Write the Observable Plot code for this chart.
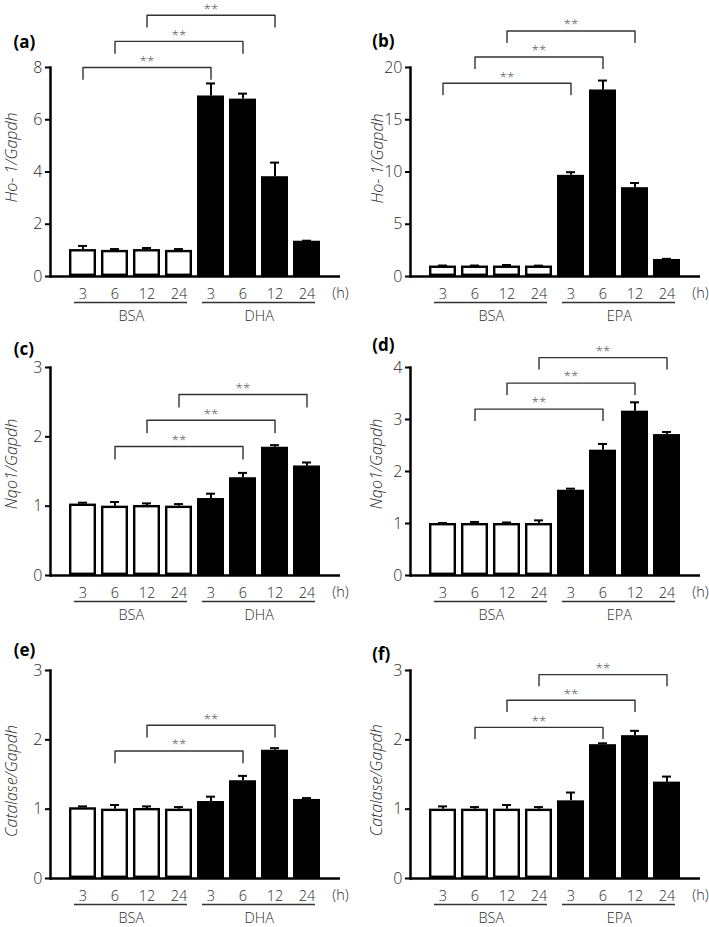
<!DOCTYPE html>
<html><head><meta charset="utf-8">
<script src="https://cdn.jsdelivr.net/npm/d3@7"></script>
<script src="https://cdn.jsdelivr.net/npm/@observablehq/plot@0.6"></script>
<style>
body{margin:0;background:#fff;}
#wrap{position:relative;width:709px;height:927px;overflow:hidden;background:#fff;}
#wrap svg{position:absolute;}
</style></head><body><div id="wrap"></div>
<script>
// ---------- data ----------
const hours = ["3", "6", "12", "24"];
const control = "BSA";
const groupsDHA = ["BSA", "DHA"];
const groupsEPA = ["BSA", "EPA"];

// (a) Ho-1, DHA
const hoDhaMean = [1.03, 1.00, 1.03, 1.00, 6.91, 6.79, 3.82, 1.35];
const hoDhaErr  = [0.14, 0.05, 0.06, 0.05, 0.48, 0.21, 0.54, 0.02];
// (b) Ho-1, EPA
const hoEpaMean = [1.00, 1.00, 1.00, 1.00, 9.68, 17.85, 8.50, 1.63];
const hoEpaErr  = [0.05, 0.05, 0.10, 0.04, 0.30, 0.90, 0.45, 0.06];
// (c) Nqo1, DHA
const nqoDhaMean = [1.03, 1.00, 1.01, 1.00, 1.11, 1.41, 1.85, 1.58];
const nqoDhaErr  = [0.02, 0.06, 0.03, 0.03, 0.07, 0.07, 0.03, 0.05];
// (d) Nqo1, EPA
const nqoEpaMean = [1.00, 1.00, 1.00, 1.00, 1.64, 2.41, 3.16, 2.71];
const nqoEpaErr  = [0.01, 0.03, 0.02, 0.06, 0.03, 0.12, 0.17, 0.05];
// (e) Catalase, DHA
const catDhaMean = [1.02, 1.00, 1.01, 1.00, 1.11, 1.41, 1.85, 1.14];
const catDhaErr  = [0.02, 0.06, 0.03, 0.03, 0.07, 0.07, 0.03, 0.02];
// (f) Catalase, EPA
const catEpaMean = [1.00, 1.00, 1.00, 1.00, 1.12, 1.93, 2.06, 1.39];
const catEpaErr  = [0.04, 0.03, 0.06, 0.03, 0.12, 0.02, 0.07, 0.08];

// y ticks
const ticksA = [0, 2, 4, 6, 8];
const ticksB = [0, 5, 10, 15, 20];
const ticksC = [0, 1, 2, 3];
const ticksD = [0, 1, 2, 3, 4];
const ticksE = [0, 1, 2, 3];
const ticksF = [0, 1, 2, 3];

// significance brackets: [from, to, level]; legs drop (y units)
const bracketsA = [["BSA-3", "DHA-3", 8.0], ["BSA-6", "DHA-6", 9.0], ["BSA-12", "DHA-12", 10.0]];
const bracketsB = [["BSA-3", "EPA-3", 18.5], ["BSA-6", "EPA-6", 21.0], ["BSA-12", "EPA-12", 23.5]];
const bracketsC = [["BSA-6", "DHA-6", 1.86], ["BSA-12", "DHA-12", 2.24], ["BSA-24", "DHA-24", 2.61]];
const bracketsD = [["BSA-6", "EPA-6", 3.20], ["BSA-12", "EPA-12", 3.70], ["BSA-24", "EPA-24", 4.19]];
const bracketsE = [["BSA-6", "DHA-6", 1.84], ["BSA-12", "DHA-12", 2.21]];
const bracketsF = [["BSA-6", "EPA-6", 2.18], ["BSA-12", "EPA-12", 2.57], ["BSA-24", "EPA-24", 2.94]];
const legA = 0.45, legB = 1.1, legC = 0.18, legD = 0.22, legE = 0.17, legF = 0.16;

const sigText = "**";
const unitText = "(h)";

// ---------- panels ----------
const panels = [
  {id: "a", groups: groupsDHA, mean: hoDhaMean, err: hoDhaErr, ticks: ticksA, brackets: bracketsA, leg: legA, ylab: "Ho- 1/Gapdh"},
  {id: "b", groups: groupsEPA, mean: hoEpaMean, err: hoEpaErr, ticks: ticksB, brackets: bracketsB, leg: legB, ylab: "Ho- 1/Gapdh"},
  {id: "c", groups: groupsDHA, mean: nqoDhaMean, err: nqoDhaErr, ticks: ticksC, brackets: bracketsC, leg: legC, ylab: "Nqo1/Gapdh"},
  {id: "d", groups: groupsEPA, mean: nqoEpaMean, err: nqoEpaErr, ticks: ticksD, brackets: bracketsD, leg: legD, ylab: "Nqo1/Gapdh"},
  {id: "e", groups: groupsDHA, mean: catDhaMean, err: catDhaErr, ticks: ticksE, brackets: bracketsE, leg: legE, ylab: "Catalase/Gapdh"},
  {id: "f", groups: groupsEPA, mean: catEpaMean, err: catEpaErr, ticks: ticksF, brackets: bracketsF, leg: legF, ylab: "Catalase/Gapdh"}
];

// ---------- layout ----------
const layout = {
  a: {left: 0,   top: 0,     width: 355, ml: 50, mr: 15, fh: 209, labDx: -37,   labDy: -25.3, yDx: -39,   yDy: -14.5},
  b: {left: 355, top: 0,     width: 354, ml: 55, mr: 9,  fh: 209, labDx: -38.3, labDy: -26, yDx: -33,   yDy: -13.5},
  c: {left: 0,   top: 299.5, width: 355, ml: 50, mr: 15, fh: 208, labDx: -36.7, labDy: -18.4, yDx: -39,   yDy: -7.5},
  d: {left: 355, top: 299.5, width: 354, ml: 55, mr: 9,  fh: 208, labDx: -38.3, labDy: -22, yDx: -33.3, yDy: -7.5},
  e: {left: 0,   top: 602.5, width: 355, ml: 50, mr: 15, fh: 208, labDx: -36.7, labDy: -20, yDx: -39,   yDy: 6.5},
  f: {left: 355, top: 602.5, width: 354, ml: 55, mr: 9,  fh: 208, labDx: -38.3, labDy: -16, yDx: -33.3, yDy: 5.7}
};
const MT = 67, MB = 45, PIN = 0.15, POUT = 0.52;
const textCol = "#2b2b2b";
const font = "'Open Sans', 'Noto Sans', sans-serif";

const wrap = document.getElementById("wrap");

for (const p of panels) {
  const L = layout[p.id];
  const cats = p.groups.flatMap(g => hours.map(h => `${g}-${h}`));
  const rows = cats.map((c, i) => ({cat: c, group: c.split("-")[0], mean: p.mean[i], err: p.err[i]}));
  const step = (L.width - L.ml - L.mr) / (cats.length - PIN + 2 * POUT);
  const brLines = p.brackets.flatMap(([c1, c2, lv], k) => [
    {k, cat: c1, y: lv - p.leg}, {k, cat: c1, y: lv}, {k, cat: c2, y: lv}, {k, cat: c2, y: lv - p.leg}
  ]);
  const stars = p.brackets.map(([c1, c2, lv]) => ({cat: cats[(cats.indexOf(c1) + cats.indexOf(c2)) / 2], y: lv}));
  const grp = p.groups.map(g => ({group: g, first: `${g}-${hours[0]}`, last: `${g}-${hours[hours.length - 1]}`, mid: `${g}-${hours[1]}`}));
  const yMax = p.ticks[p.ticks.length - 1];

  const chart = Plot.plot({
    width: L.width,
    height: MT + L.fh + MB,
    marginLeft: L.ml, marginRight: L.mr, marginTop: MT, marginBottom: MB,
    style: {background: "transparent", overflow: "visible", fontFamily: font, fontWeight: 300, color: textCol},
    x: {domain: cats, paddingInner: PIN, paddingOuter: POUT},
    y: {domain: [0, yMax]},
    marks: [
      Plot.barY(rows.filter(d => d.group === control), {x: "cat", y: "mean", fill: "white", stroke: "black", strokeWidth: 2.4, inset: 1.2}),
      Plot.barY(rows.filter(d => d.group !== control), {x: "cat", y: "mean", fill: "black", stroke: "black", strokeWidth: 2.4, inset: 1.2}),
      Plot.ruleX(rows, {x: "cat", y1: "mean", y2: d => d.mean + d.err, stroke: "black", strokeWidth: 2}),
      Plot.tickY(rows, {x: "cat", y: d => d.mean + d.err, stroke: "black", strokeWidth: 2, inset: 9}),
      Plot.frame({anchor: "left", stroke: "black", strokeWidth: 2.5}),
      Plot.ruleY([0], {stroke: "black", strokeWidth: 2.5}),
      Plot.axisY(p.ticks, {tickSize: 5, tickPadding: 3, fontSize: 16, stroke: "black", strokeWidth: 2, fill: textCol, label: null, tickFormat: d => String(d)}),
      Plot.axisX({tickSize: 0, tickPadding: 12, fontSize: 14.5, fill: textCol, label: null, tickFormat: d => d.split("-")[1]}),
      Plot.ruleY(grp, {x1: "first", x2: "last", y: d => 0, dy: 26, insetLeft: 5, insetRight: 5, stroke: "#333", strokeWidth: 1.5}),
      Plot.text(grp, {x: "mid", y: d => 0, text: "group", dx: step / 2, dy: 40, fontSize: 14.5, fill: textCol}),
      Plot.text([unitText], {text: d => d, frameAnchor: "bottom-right", textAnchor: "middle", lineAnchor: "middle", dy: 17, dx: 0, fontSize: 14.5, fill: textCol}),
      Plot.line(brLines, {x: "cat", y: "y", z: "k", stroke: "#333", strokeWidth: 1.4}),
      Plot.text(stars, {x: "cat", y: "y", text: d => sigText, dy: -6, fontSize: 13.5, fill: "#555"}),
      Plot.text([`(${p.id})`], {text: d => d, frameAnchor: "top-left", textAnchor: "start", lineAnchor: "middle", dx: L.labDx, dy: L.labDy, fontSize: 17, fontWeight: "bold", fill: "black"}),
      Plot.text([p.ylab], {text: d => d, frameAnchor: "left", textAnchor: "middle", lineAnchor: "middle", rotate: -90, dx: L.yDx, dy: L.yDy, fontSize: 16, fontStyle: "italic", fill: textCol})
    ]
  });
  chart.style.left = L.left + "px";
  chart.style.top = L.top + "px";
  wrap.appendChild(chart);
}
</script>
</body></html>
